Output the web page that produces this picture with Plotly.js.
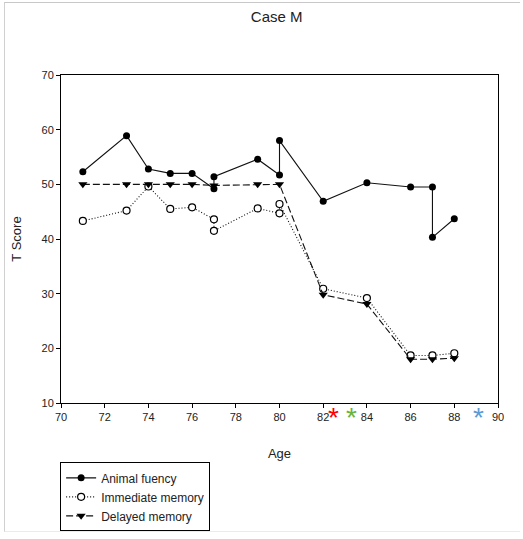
<!DOCTYPE html>
<html>
<head>
<meta charset="utf-8">
<script src="https://cdn.plot.ly/plotly-3.0.1.min.js"></script>
<style>
html,body{margin:0;padding:0;background:#fff;}
#frame{position:absolute;left:4px;top:2px;width:516px;height:530px;border-top:1px solid #c8c8c8;border-left:1px solid #d0d0d0;border-bottom:1px solid #ebebeb;box-sizing:border-box;pointer-events:none;z-index:5;}
#chart{position:absolute;left:0;top:0;width:523px;height:539px;}
</style>
</head>
<body>
<div id="chart"></div>
<div id="frame"></div>
<script>
// Animal fluency
const animalAge = [71, 73, 74, 75, 76, 77, 77, 79, 80, 80, 82, 84, 86, 87, 87, 88];
const animalScore = [52.3, 58.9, 52.8, 52.0, 52.0, 49.2, 51.4, 54.6, 51.7, 58.0, 46.9, 50.3, 49.5, 49.5, 40.3, 43.7];
// Immediate memory
const immAge = [71, 73, 74, 75, 76, 77, 77, 79, 80, 80, 82, 84, 86, 87, 88];
const immScore = [43.3, 45.2, 49.6, 45.5, 45.8, 43.6, 41.5, 45.6, 44.7, 46.4, 30.9, 29.2, 18.7, 18.7, 19.1];
// Delayed memory
const delAge = [71, 73, 74, 75, 76, 77, 79, 80, 82, 84, 86, 87, 88];
const delScore = [50, 50, 50, 50, 50, 49.8, 50, 50, 29.8, 28.1, 18.0, 18.0, 18.2];
// Asterisk marks below the x axis
const starAge = [82.45, 83.3, 89.1];
const starColors = ['#ff0000', '#6ab23e', '#5b9bd5'];

const xTicks = [70, 72, 74, 76, 78, 80, 82, 84, 86, 88, 90];
const yTicks = [10, 20, 30, 40, 50, 60, 70];

const traces = [
  {x: animalAge, y: animalScore, name: 'Animal fuency', mode: 'lines+markers',
   line: {color: '#111', width: 1.1},
   marker: {symbol: 'circle', size: 7, color: '#000'}},
  {x: immAge, y: immScore, name: 'Immediate memory', mode: 'lines+markers',
   line: {color: '#111', width: 1.1, dash: '1px,2px'},
   marker: {symbol: 'circle', size: 7, color: '#fff', line: {color: '#000', width: 1.2}}},
  {x: delAge, y: delScore, name: 'Delayed memory', mode: 'lines+markers',
   line: {color: '#111', width: 1.1, dash: '7px,3px'},
   marker: {symbol: 'triangle-down', size: 8, color: '#000'}}
];

const starAnnotations = starAge.map((a, i) => ({
  x: a, y: -0.025, xref: 'x', yref: 'paper', text: '*', showarrow: false,
  font: {size: 28, color: starColors[i], family: 'Liberation Sans, Arial, sans-serif'},
  xanchor: 'center', yanchor: 'middle', yshift: -6
}));

const layout = {
  width: 523, height: 539,
  margin: {l: 61, r: 25, t: 75, b: 136, autoexpand: false},
  paper_bgcolor: '#fff', plot_bgcolor: '#fff',
  font: {family: 'Liberation Sans, Arial, sans-serif', color: '#222', size: 11},
  title: {text: 'Case M', font: {size: 15, color: '#222'}, xref: 'container', x: 0.529, xanchor: 'center', yref: 'container', y: 0.968, yanchor: 'middle'},
  xaxis: {range: [70, 90], tickvals: xTicks, ticktext: xTicks.map(String), automargin: false,
    showline: true, mirror: true, linecolor: '#000', linewidth: 1,
    ticks: 'outside', ticklen: 4, tickcolor: '#000', showgrid: false, zeroline: false,
    title: {text: 'Age', font: {size: 13, color: '#222'}, standoff: 26}},
  yaxis: {range: [10, 70], tickvals: yTicks, ticktext: yTicks.map(String), automargin: false,
    showline: true, mirror: true, linecolor: '#000', linewidth: 1,
    ticks: 'outside', ticklen: 4, tickcolor: '#000', showgrid: false, zeroline: false,
    title: {text: 'T Score', font: {size: 13, color: '#222'}, standoff: 16}},
  annotations: starAnnotations,
  showlegend: true,
  legend: {x: -0.002, y: -0.181, xanchor: 'left', yanchor: 'top',
    bordercolor: '#000', borderwidth: 1, bgcolor: '#fff',
    font: {size: 12, color: '#222'}, tracegroupgap: 0}
};

Plotly.newPlot('chart', traces, layout, {displayModeBar: false, staticPlot: true});
</script>
</body>
</html>
